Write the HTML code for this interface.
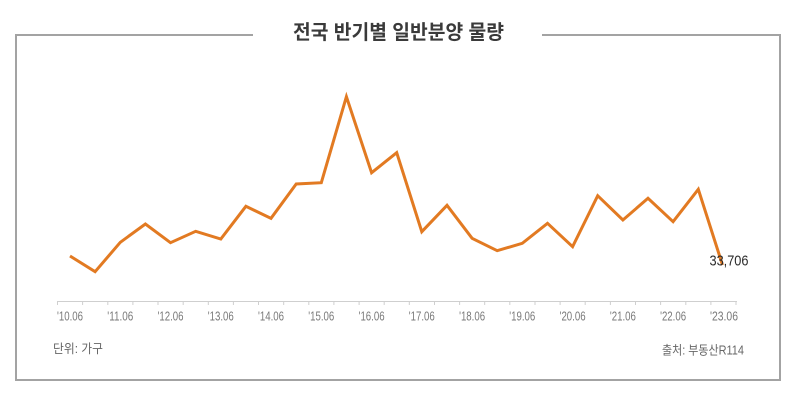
<!DOCTYPE html>
<html>
<head>
<meta charset="utf-8">
<style>
  html, body { margin:0; padding:0; background:#ffffff; }
  body { width:800px; height:407px; overflow:hidden; }
  svg { display:block; }
</style>
</head>
<body>
<svg width="800" height="407" viewBox="0 0 800 407" xmlns="http://www.w3.org/2000/svg">
  <rect x="0" y="0" width="800" height="407" fill="#ffffff"/>
  <!-- frame -->
  <path d="M253 35 L16 35 L16 380 L780 380 L780 35 L542 35" fill="none" stroke="#a3a3a3" stroke-width="2"/>
  <!-- title -->
  <text x="398.5" y="39" text-anchor="middle" font-family="'Liberation Sans','Noto Sans CJK KR',sans-serif" font-weight="bold" font-size="20" fill="#3a3a3a" textLength="211" lengthAdjust="spacingAndGlyphs">전국 반기별 일반분양 물량</text>

  <!-- x axis -->
  <line x1="57" y1="301.5" x2="737" y2="301.5" stroke="#cfcfcf" stroke-width="1"/>
  <g stroke="#cfcfcf" stroke-width="1">
    <line x1="57.5" y1="301" x2="57.5" y2="305"/>
    <line x1="82.6" y1="301" x2="82.6" y2="305"/>
    <line x1="107.8" y1="301" x2="107.8" y2="305"/>
    <line x1="132.9" y1="301" x2="132.9" y2="305"/>
    <line x1="158.0" y1="301" x2="158.0" y2="305"/>
    <line x1="183.2" y1="301" x2="183.2" y2="305"/>
    <line x1="208.3" y1="301" x2="208.3" y2="305"/>
    <line x1="233.4" y1="301" x2="233.4" y2="305"/>
    <line x1="258.5" y1="301" x2="258.5" y2="305"/>
    <line x1="283.7" y1="301" x2="283.7" y2="305"/>
    <line x1="308.8" y1="301" x2="308.8" y2="305"/>
    <line x1="333.9" y1="301" x2="333.9" y2="305"/>
    <line x1="359.1" y1="301" x2="359.1" y2="305"/>
    <line x1="384.2" y1="301" x2="384.2" y2="305"/>
    <line x1="409.3" y1="301" x2="409.3" y2="305"/>
    <line x1="434.5" y1="301" x2="434.5" y2="305"/>
    <line x1="459.6" y1="301" x2="459.6" y2="305"/>
    <line x1="484.7" y1="301" x2="484.7" y2="305"/>
    <line x1="509.8" y1="301" x2="509.8" y2="305"/>
    <line x1="535.0" y1="301" x2="535.0" y2="305"/>
    <line x1="560.1" y1="301" x2="560.1" y2="305"/>
    <line x1="585.2" y1="301" x2="585.2" y2="305"/>
    <line x1="610.4" y1="301" x2="610.4" y2="305"/>
    <line x1="635.5" y1="301" x2="635.5" y2="305"/>
    <line x1="660.6" y1="301" x2="660.6" y2="305"/>
    <line x1="685.8" y1="301" x2="685.8" y2="305"/>
    <line x1="710.9" y1="301" x2="710.9" y2="305"/>
    <line x1="736.0" y1="301" x2="736.0" y2="305"/>
  </g>
  <g font-family="'Liberation Sans',sans-serif" font-size="13" fill="#7a7a7a" text-anchor="middle">
    <text x="70.0" y="320.5" textLength="26" lengthAdjust="spacingAndGlyphs">'10.06</text>
    <text x="120.3" y="320.5" textLength="26" lengthAdjust="spacingAndGlyphs">'11.06</text>
    <text x="170.5" y="320.5" textLength="26" lengthAdjust="spacingAndGlyphs">'12.06</text>
    <text x="220.8" y="320.5" textLength="26" lengthAdjust="spacingAndGlyphs">'13.06</text>
    <text x="271.0" y="320.5" textLength="26" lengthAdjust="spacingAndGlyphs">'14.06</text>
    <text x="321.3" y="320.5" textLength="26" lengthAdjust="spacingAndGlyphs">'15.06</text>
    <text x="371.6" y="320.5" textLength="26" lengthAdjust="spacingAndGlyphs">'16.06</text>
    <text x="421.8" y="320.5" textLength="26" lengthAdjust="spacingAndGlyphs">'17.06</text>
    <text x="472.1" y="320.5" textLength="26" lengthAdjust="spacingAndGlyphs">'18.06</text>
    <text x="522.3" y="320.5" textLength="26" lengthAdjust="spacingAndGlyphs">'19.06</text>
    <text x="572.6" y="320.5" textLength="26" lengthAdjust="spacingAndGlyphs">'20.06</text>
    <text x="622.9" y="320.5" textLength="26" lengthAdjust="spacingAndGlyphs">'21.06</text>
    <text x="673.1" y="320.5" textLength="26" lengthAdjust="spacingAndGlyphs">'22.06</text>
    <text x="724.0" y="320.5" textLength="28" lengthAdjust="spacingAndGlyphs">'23.06</text>
  </g>

  <!-- series -->
  <polyline fill="none" stroke="#e27a22" stroke-width="3" stroke-linejoin="miter" stroke-linecap="butt"
    points="70.0,256 95.1,271.7 120.3,242.3 145.4,224 170.5,242.7 195.7,231.3 220.8,239 245.9,206.3 271.0,218.3 296.2,184 321.3,182.7 346.4,96.7 371.6,172.7 396.7,152.7 421.8,231.7 447.0,205.3 472.1,238.3 497.2,250.7 522.3,243.3 547.5,223.3 572.6,246.7 597.7,195.7 622.9,220 648.0,198.3 673.1,221.7 698.3,189.3 722.5,265"/>

  <!-- end label -->
  <text x="729" y="265.5" text-anchor="middle" font-family="'Liberation Sans',sans-serif" font-size="15" fill="#2b2b2b" textLength="39" lengthAdjust="spacingAndGlyphs">33,706</text>

  <!-- footnotes -->
  <text x="53" y="353" font-family="'Liberation Sans','Noto Sans CJK KR',sans-serif" font-size="12.5" fill="#666666" textLength="50" lengthAdjust="spacingAndGlyphs">단위: 가구</text>
  <text x="744" y="354.5" text-anchor="end" font-family="'Liberation Sans','Noto Sans CJK KR',sans-serif" font-size="12.5" fill="#666666" textLength="82" lengthAdjust="spacingAndGlyphs">출처: 부동산R114</text>
</svg>
</body>
</html>
